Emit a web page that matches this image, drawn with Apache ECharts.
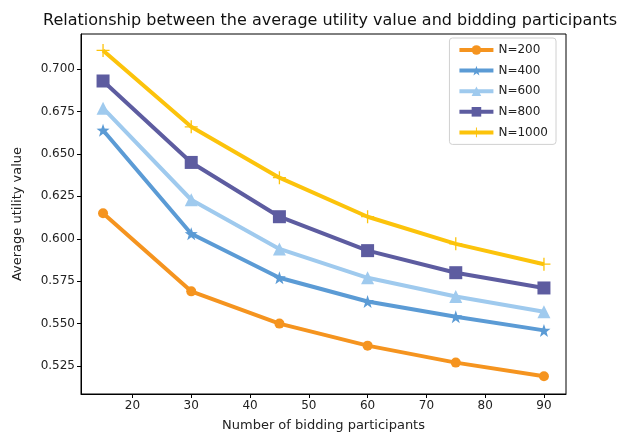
<!DOCTYPE html>
<html><head><meta charset="utf-8">
<script src="https://cdn.jsdelivr.net/npm/echarts@6/dist/echarts.min.js"></script>
<style>html,body{margin:0;padding:0;background:#fff}#c{width:618px;height:437px}</style>
</head><body><div id="c"></div>
<script>
var participants = [15, 30, 45, 60, 75, 90];
var seriesNames = ['N=200', 'N=400', 'N=600', 'N=800', 'N=1000'];
var n200 = [0.615, 0.569, 0.550, 0.537, 0.527, 0.519];
var n400 = [0.664, 0.603, 0.577, 0.563, 0.554, 0.546];
var n600 = [0.677, 0.623, 0.594, 0.577, 0.566, 0.557];
var n800 = [0.693, 0.645, 0.613, 0.593, 0.580, 0.571];
var n1000 = [0.711, 0.666, 0.636, 0.613, 0.597, 0.585];
var xTicks = [20, 30, 40, 50, 60, 70, 80, 90];
var yTicks = [0.525, 0.550, 0.575, 0.600, 0.625, 0.650, 0.675, 0.700];

var colors = ['#f5941f', '#5b9bd5', '#9fcaee', '#5d5ca0', '#fcc30b'];
var plus = 'path://M-1,-10H1V-1H10V1H1V10H-1V1H-10V-1H-1Z';
var star = 'path://M0,-10L2.35,-3.24L9.51,-3.09L3.8,1.24L5.88,8.09L0,4L-5.88,8.09L-3.8,1.24L-9.51,-3.09L-2.35,-3.24Z';
var symbols = ['circle', star, 'triangle', 'rect', plus];
var sizes = [10, 13, 13, 13, 13];
var allData = [n200, n400, n600, n800, n1000];

var chart = echarts.init(document.getElementById('c'), null, {renderer: 'canvas'});
var font = 'DejaVu Sans';
chart.setOption({
  animation: false,
  title: {
    text: 'Relationship between the average utility value and bidding participants',
    left: 325, top: 8, textAlign: 'center',
    textStyle: {fontFamily: font, fontSize: 16, fontWeight: 'normal', color: '#111'}
  },
  legend: {
    orient: 'vertical', right: 62, top: 38,
    data: seriesNames,
    itemWidth: 34, itemHeight: 12, itemGap: 8.6,
    padding: [6, 8, 6, 8],
    borderColor: '#d0d0d0', borderWidth: 1, borderRadius: 3,
    lineStyle: {width: 4},
    textStyle: {fontFamily: font, fontSize: 12, color: '#222'}
  },
  grid: {left: 81, right: 52, top: 34, bottom: 41, show: true, borderColor: '#000', borderWidth: 1},
  xAxis: {
    type: 'value', min: 11.25, max: 93.75,
    name: 'Number of bidding participants', nameLocation: 'middle', nameGap: 25,
    nameTextStyle: {fontFamily: font, fontSize: 13, color: '#222'},
    axisLine: {lineStyle: {color: '#000'}},
    axisTick: {show: true, length: 4, customValues: xTicks, lineStyle: {color: '#000'}},
    axisLabel: {customValues: xTicks, fontFamily: font, fontSize: 12, color: '#222', margin: 6},
    splitLine: {show: false}
  },
  yAxis: {
    type: 'value', min: 0.5085, max: 0.7207,
    name: 'Average utility value', nameLocation: 'middle', nameGap: 57, nameRotate: 90,
    nameTextStyle: {fontFamily: font, fontSize: 13, color: '#222'},
    axisLine: {show: true, lineStyle: {color: '#000'}},
    axisTick: {show: true, length: 4, customValues: yTicks, lineStyle: {color: '#000'}},
    axisLabel: {customValues: yTicks, fontFamily: font, fontSize: 12, color: '#222', margin: 6,
      formatter: function (v) { return v.toFixed(3); }},
    splitLine: {show: false}
  },
  series: seriesNames.map(function (name, i) {
    return {
      name: name, type: 'line',
      data: participants.map(function (x, j) { return [x, allData[i][j]]; }),
      symbol: symbols[i], symbolSize: sizes[i],
      lineStyle: {width: 4, color: colors[i]},
      itemStyle: {color: colors[i]},
      z: 2 + i
    };
  })
});
</script></body></html>
